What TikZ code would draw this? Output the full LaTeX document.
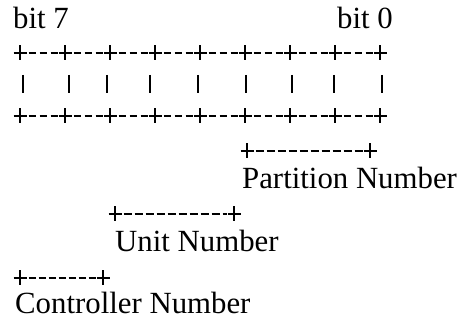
\documentclass[tikz,border=0pt]{standalone}
\usepackage{fontspec}
\setmainfont{Liberation Serif}
\begin{document}
\begin{tikzpicture}[x=1pt,y=-1pt,
  lbl/.style={anchor=base west, inner sep=0pt, font=\fontsize{30.8}{36}\selectfont},
  plusmark/.pic={\draw[line width=1.5] (-6.5,0)--(6.5,0) (0,-7.5)--(0,7.5);},
  dashrule/.style={line width=1.3, dash pattern=on 7.5pt off 3.5pt},
  barline/.style={line width=1.6}]
\useasboundingbox (0,0) rectangle (459,320);
% header labels
\node[lbl] (b7) at (13,29) {bit 7};
\node[lbl] (b0) at (337,29) {bit 0};
% top and bottom register rows
\foreach \y in {53,116}{
  \foreach \i in {0,...,8}{ \pic at ({20+45*\i},\y) {plusmark}; }
  \foreach \i in {0,...,7}{ \draw[dashrule, dash phase=-1.5pt] ({20+45*\i+7},\y) -- ({20+45*\i+38},\y); }
}
% vertical bars
\foreach \x in {23,69,107,150,198,246,292,334,382}{ \draw[barline] (\x,75) -- (\x,93); }
% partition field
\coordinate (pa) at (247,151); \coordinate (pb) at (370,151);
\pic at (pa) {plusmark}; \pic at (pb) {plusmark};
\draw[line width=1.3, dash pattern=on 8pt off 3pt, dash phase=-1.5pt] ([xshift=7pt]pa) -- ([xshift=-7pt]pb);
\node[lbl] (pn) at (242,189) {Partition Number};
% unit field
\coordinate (ua) at (115,214); \coordinate (ub) at (234,214);
\pic at (ua) {plusmark}; \pic at (ub) {plusmark};
\draw[line width=1.3, dash pattern=on 8pt off 3pt, dash phase=-1.5pt] ([xshift=7pt]ua) -- ([xshift=-7pt]ub);
\node[lbl] (un) at (115,252) {Unit Number};
% controller field
\coordinate (ca) at (20,278); \coordinate (cb) at (103,278);
\pic at (ca) {plusmark}; \pic at (cb) {plusmark};
\draw[line width=1.3, dash pattern=on 7pt off 3pt, dash phase=-1.5pt] ([xshift=7pt]ca) -- ([xshift=-7pt]cb);
\node[lbl] (cn) at (15,314) {Controller Number};
\end{tikzpicture}
\end{document}
